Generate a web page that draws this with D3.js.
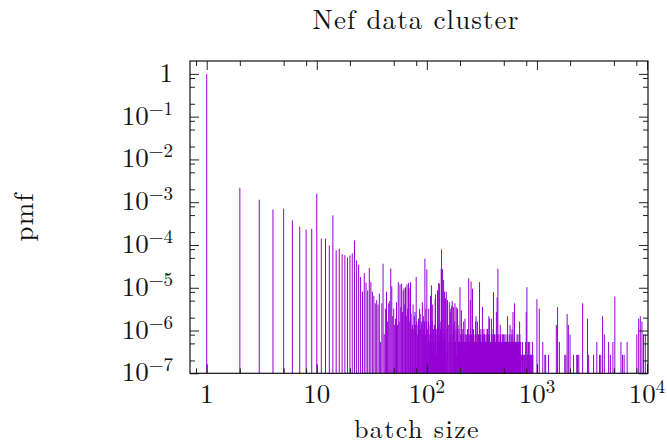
<!DOCTYPE html>
<html>
<head>
<meta charset="utf-8">
<script src="https://cdn.jsdelivr.net/npm/d3@7"></script>
<style>
  html, body { margin: 0; padding: 0; background: #fff; }
  svg text { font-family: "Latin Modern Roman", "CMU Serif", "Liberation Serif", serif; fill: #111; }
</style>
</head>
<body>
<svg id="chart" width="667" height="446"></svg>
<script>
// batch sizes and how many batches of that size were seen
const sizes = [
  1, 2, 3, 4, 5, 6, 7, 8, 9, 10,
  11, 12, 13, 14, 15, 16, 17, 18, 19, 20,
  21, 22, 23, 24, 25, 26, 27, 28, 29, 30,
  31, 32, 33, 34, 35, 36, 37, 38, 39, 40,
  41, 42, 43, 44, 45, 46, 47, 48, 49, 50,
  51, 52, 53, 54, 55, 56, 57, 58, 59, 60,
  61, 62, 63, 64, 65, 66, 67, 68, 69, 70,
  71, 72, 73, 74, 75, 76, 77, 78, 79, 80,
  81, 82, 83, 84, 85, 86, 87, 88, 89, 90,
  91, 92, 93, 94, 95, 96, 97, 98, 99, 100,
  101, 102, 103, 104, 105, 106, 107, 108, 109, 110,
  111, 112, 113, 114, 115, 116, 117, 118, 119, 120,
  121, 122, 123, 124, 125, 126, 127, 128, 129, 130,
  131, 132, 133, 134, 135, 136, 137, 138, 139, 140,
  141, 142, 143, 144, 145, 146, 147, 148, 149, 150,
  152, 154, 156, 158, 160, 162, 163, 165, 166, 168,
  170, 172, 174, 175, 177, 179, 180, 182, 184, 185,
  187, 189, 190, 192, 194, 196, 198, 200, 203, 206,
  209, 212, 216, 219, 222, 225, 228, 231, 234, 237,
  240, 243, 246, 248, 250, 252, 255, 258, 260, 263,
  265, 268, 271, 274, 277, 280, 283, 286, 289, 292,
  295, 298, 301, 304, 307, 310, 313, 316, 320, 323,
  326, 330, 333, 336, 340, 343, 346, 349, 352, 356,
  360, 363, 366, 370, 374, 378, 382, 386, 390, 394,
  398, 403, 406, 410, 414, 418, 422, 428, 432, 435,
  438, 442, 446, 450, 455, 460, 464, 470, 475, 480,
  485, 490, 495, 500, 505, 510, 515, 520, 525, 530,
  536, 541, 546, 552, 558, 564, 570, 576, 582, 588,
  594, 600, 606, 612, 618, 625, 632, 640, 648, 656,
  664, 672, 680, 688, 696, 704, 712, 720, 730, 740,
  750, 760, 770, 780, 790, 800, 811, 822, 830, 840,
  850, 860, 871, 882, 895, 910, 920, 1000, 1050, 1130,
  1180, 1200, 1275, 1500, 1540, 1600, 1790, 1830, 1880, 1930,
  2000, 2150, 2300, 2340, 2400, 2600, 2880, 2950, 3270, 3500,
  3700, 3800, 3950, 4096, 4480, 4650, 4900, 5100, 5800, 6000,
  6200, 6600, 8080, 8400, 8690, 9000, 9300, 9650
];
const counts = [
  3680000, 8060, 4230, 2510, 2610, 1390, 1000, 850, 890, 5840,
  520, 520, 361, 1820, 277, 305, 225, 214, 188, 211,
  235, 473, 161, 128, 66, 30, 81, 49, 32, 108,
  50, 30, 24, 16, 19, 15, 27, 2, 16, 135,
  3, 12, 30, 6, 16, 18, 105, 40, 8, 12,
  5, 7, 17, 5, 50, 6, 44, 13, 46, 10,
  32, 36, 15, 38, 8, 44, 12, 48, 36, 6,
  50, 9, 4, 5, 15, 4, 8, 10, 5, 66,
  6, 3, 5, 7, 4, 12, 9, 4, 6, 5,
  17, 3, 8, 4, 6, 177, 3, 12, 6, 100,
  4, 2, 6, 12, 3, 2, 5, 24, 3, 42,
  2, 6, 15, 2, 4, 1, 5, 2, 20, 26,
  3, 1, 4, 2, 32, 2, 5, 48, 2, 46,
  3, 2, 4, 6, 103, 290, 5, 2, 100, 3,
  2, 56, 4, 2, 30, 3, 2, 21, 1, 30,
  4, 19, 2, 5, 17, 3, 10, 12, 2, 14,
  18, 3, 5, 13, 2, 6, 16, 2, 4, 13,
  1, 3, 12, 5, 2, 4, 2, 38, 3, 11,
  2, 4, 6, 2, 7, 1, 3, 2, 4, 1,
  62, 2, 3, 19, 4, 52, 1, 2, 35, 2,
  4, 1, 2, 3, 6, 8, 1, 2, 6, 1,
  3, 2, 50, 1, 2, 4, 1, 2, 13, 1,
  2, 4, 3, 1, 2, 1, 2, 1, 4, 4,
  1, 2, 8, 7, 2, 1, 2, 7, 1, 2,
  3, 29, 1, 3, 2, 1, 2, 10, 1, 22,
  2, 103, 1, 2, 1, 2, 5, 1, 2, 2,
  1, 3, 1, 3, 2, 1, 2, 1, 2, 1,
  2, 8, 1, 2, 1, 2, 5, 1, 2, 1,
  4, 1, 10, 2, 1, 16, 1, 2, 1, 2,
  2, 3, 1, 2, 6, 1, 2, 1, 1, 2,
  1, 1, 1, 1, 2, 10, 38, 1, 2, 2,
  1, 2, 1, 1, 1, 2, 1, 20, 12, 2,
  1, 1, 1, 5, 13, 2, 1, 1, 9, 5,
  3, 1, 1, 1, 1, 16, 7, 1, 1, 2,
  1, 1, 8, 3, 2, 1, 2, 23, 2, 1,
  1, 2, 3, 7, 8, 6, 3, 3
];
// extra small batches between the sizes above, where the plot is a solid band
const denseSizes = [
  201, 204, 207, 210, 214, 217, 220, 223, 226, 229,
  232, 235, 238, 241, 244, 247, 251, 254, 257, 261,
  264, 267, 270, 273, 276, 279, 282, 285, 288, 291,
  294, 297, 300, 303, 306, 309, 312, 315, 318, 322,
  325, 328, 332, 335, 338, 342, 345, 348, 351, 354,
  358, 362, 365, 368, 372, 376, 380, 384, 388, 392,
  396, 400, 405, 408, 412, 416, 420, 425, 430, 437,
  440, 444, 448, 452, 457, 462, 467, 472, 478, 483,
  488, 493, 498, 503, 508, 513, 518, 523, 528, 533,
  539, 544, 549, 555, 561, 567, 573, 579, 585, 591,
  597, 603, 609, 615, 621, 628, 636, 644, 652, 660,
  668, 676, 684, 692, 700
];
const denseCounts = [
  2, 2, 3, 2, 3, 2, 2, 3, 2, 2,
  3, 2, 2, 3, 2, 2, 2, 3, 2, 2,
  3, 2, 2, 2, 3, 2, 2, 3, 2, 2,
  2, 3, 2, 2, 3, 2, 2, 2, 3, 2,
  2, 3, 2, 2, 3, 2, 2, 2, 3, 2,
  2, 3, 2, 2, 3, 2, 2, 2, 3, 2,
  2, 4, 2, 2, 3, 2, 2, 3, 2, 2,
  3, 2, 2, 3, 2, 2, 3, 2, 2, 3,
  2, 2, 2, 3, 2, 2, 2, 3, 2, 2,
  2, 3, 2, 2, 2, 3, 2, 2, 2, 3,
  2, 2, 2, 2, 3, 2, 2, 2, 2, 3,
  2, 2, 2, 2, 3
];
const totalBatches = 3.7e6;

const xMajor = [1, 10, 100, 1000, 10000];
const xMinor = [0.8, 2, 5, 8, 20, 50, 80, 200, 500, 800, 2000, 5000, 8000];
const yMajor = [1, 1e-1, 1e-2, 1e-3, 1e-4, 1e-5, 1e-6, 1e-7];
const yMinor = [2e-7, 5e-7, 8e-7, 2e-6, 5e-6, 8e-6, 2e-5, 5e-5, 8e-5, 2e-4, 5e-4, 8e-4,
                2e-3, 5e-3, 8e-3, 2e-2, 5e-2, 8e-2, 2e-1, 5e-1, 8e-1];

const plotLeft = 190, plotRight = 648, plotTop = 61, plotBottom = 373.3;

const x = d3.scaleLog().domain([0.705, 10210]).range([plotLeft, plotRight]);
const y = d3.scaleLog().domain([1e-7, 2]).range([plotBottom, plotTop]);

const svg = d3.select("#chart");

const data = sizes.map((s, i) => ({ size: s, pmf: counts[i] / totalBatches }))
  .concat(denseSizes.map((s, i) => ({ size: s, pmf: denseCounts[i] / totalBatches })));

// impulses
svg.append("g").selectAll("line.bar").data(data).enter().append("line")
  .attr("class", "bar")
  .attr("x1", d => x(d.size)).attr("x2", d => x(d.size))
  .attr("y1", y(1e-7)).attr("y2", d => y(d.pmf))
  .attr("stroke", "#9400d3").attr("stroke-width", 1);

// inward ticks on all four sides
const majorLen = 9, minorLen = 5;
function drawTicks(axis, tx, ty) {
  svg.append("g").attr("transform", `translate(${tx},${ty})`)
    .attr("color", "#222")
    .call(axis)
    .call(g => g.select(".domain").remove())
    .call(g => g.selectAll("text").remove());
}
drawTicks(d3.axisBottom(x).tickValues(xMajor).tickSize(-majorLen).tickFormat(""), 0, plotBottom);
drawTicks(d3.axisBottom(x).tickValues(xMinor).tickSize(-minorLen).tickFormat(""), 0, plotBottom);
drawTicks(d3.axisTop(x).tickValues(xMajor).tickSize(-majorLen).tickFormat(""), 0, plotTop);
drawTicks(d3.axisTop(x).tickValues(xMinor).tickSize(-minorLen).tickFormat(""), 0, plotTop);
drawTicks(d3.axisLeft(y).tickValues(yMajor).tickSize(-majorLen).tickFormat(""), plotLeft, 0);
drawTicks(d3.axisLeft(y).tickValues(yMinor).tickSize(-minorLen).tickFormat(""), plotLeft, 0);
drawTicks(d3.axisRight(y).tickValues(yMajor).tickSize(-majorLen).tickFormat(""), plotRight, 0);
drawTicks(d3.axisRight(y).tickValues(yMinor).tickSize(-minorLen).tickFormat(""), plotRight, 0);

svg.append("rect")
  .attr("x", plotLeft).attr("y", plotTop)
  .attr("width", plotRight - plotLeft).attr("height", plotBottom - plotTop)
  .attr("fill", "none").attr("stroke", "#111").attr("stroke-width", 1.2);

// tick labels as 10^k
const fontSize = 27, supSize = 19;
function powLabel(t, v) {
  const e = Math.round(Math.log10(v));
  if (e === 0) { t.text("1"); return; }
  if (e === 1) { t.text("10"); return; }
  t.append("tspan").text("10");
  t.append("tspan").attr("dy", -10).attr("font-size", supSize)
    .text(e < 0 ? "\u2212" + (-e) : String(e));
}

svg.append("g").selectAll("text").data(xMajor).enter().append("text")
  .attr("x", d => x(d)).attr("y", 403)
  .attr("text-anchor", "middle").attr("font-size", fontSize)
  .each(function(d) { powLabel(d3.select(this), d); });

svg.append("g").selectAll("text").data(yMajor).enter().append("text")
  .attr("x", 173).attr("y", d => y(d) + 8)
  .attr("text-anchor", "end").attr("font-size", fontSize)
  .each(function(d) { powLabel(d3.select(this), d); });

svg.append("text")
  .attr("x", 416).attr("y", 29)
  .attr("text-anchor", "middle").attr("font-size", fontSize)
  .attr("letter-spacing", 1.1)
  .text("Nef data cluster");

svg.append("text")
  .attr("x", 417).attr("y", 438)
  .attr("text-anchor", "middle").attr("font-size", 26)
  .attr("letter-spacing", 1.4)
  .text("batch size");

svg.append("text")
  .attr("transform", "translate(33,217) rotate(-90)")
  .attr("text-anchor", "middle").attr("font-size", fontSize)
  .attr("letter-spacing", 1)
  .text("pmf");
</script>
</body>
</html>
